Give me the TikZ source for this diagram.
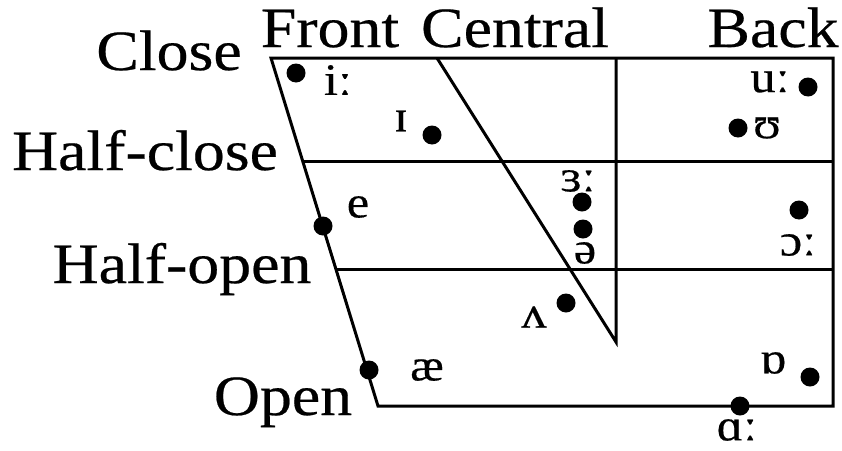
\documentclass[tikz,border=0pt]{standalone}
\usepackage{fontspec}
\setmainfont[FakeStretch=1.12,FakeBold=0.4]{Liberation Serif}
\usetikzlibrary{positioning}

\begin{document}
\begin{tikzpicture}[x=1pt,y=-1pt,
    chart/.style={line width=3pt},
    vowel/.style={circle, fill=black, inner sep=0pt, minimum size=19pt},
    height/.style={font=\fontsize{57}{60}\selectfont, inner sep=0pt, anchor=base},
    symb/.style={font=\fontsize{45}{47}\selectfont, inner sep=0pt}]
    \useasboundingbox (0,0) rectangle (842,450);
    % outline of the vowel space
    \draw[chart] (271,58) -- (833,58) -- (833,406) -- (378,406) -- cycle;
    \draw[chart] (302,161) -- (833,161);
    \draw[chart] (336,269) -- (833,269);
    % central area
    \draw[chart] (437,58) -- (616,342) -- (616,58);
    % tongue height and position
    \node[height] (close) at (169,70) {Close};
    \node[height] (halfclose) at (145,170) {Half-close};
    \node[height] (halfopen) at (182,283) {Half-open};
    \node[height] (open) at (283,415) {Open};
    \node[height] (front) at (330,47) {Front};
    \node[height] (central) at (515,47) {Central};
    \node[height] (back) at (773,47) {Back};
    % vowels
    \node[vowel] (iiDot) at (296,73) {};
    \node[symb] (ii) at (338,80) {iː};
    \node[vowel] (iDot) at (432,135) {};
    \node[symb] (i) at (401,121) {ɪ};
    \node[vowel] (eDot) at (323,226) {};
    \node[symb] (e) at (358,207) {e};
    \node[vowel] (aeDot) at (369,370) {};
    \node[symb] (ae) at (427,370) {æ};
    \node[vowel] (vvDot) at (566,303) {};
    \node[symb] (vv) at (534,317) {ʌ};
    \node[vowel] (eeDot) at (582,202) {};
    \node[symb] (ee) at (578,181) {ɜː};
    \node[vowel] (schwaDot) at (583,229) {};
    \node[symb] (schwa) at (585,253) {ə};
    \node[vowel] (uuDot) at (808,87) {};
    \node[symb] (uu) at (770,82) {uː};
    \node[vowel] (uDot) at (738,128) {};
    \node[symb] (u) at (767,128) {ʊ};
    \node[vowel] (ooDot) at (799,210) {};
    \node[symb] (oo) at (798,245) {ɔː};
    \node[vowel] (oDot) at (810,377) {};
    \node[symb] (o) at (773,363) {ɒ};
    \node[vowel] (aaDot) at (740,406) {};
    \node[symb] (aa) at (737,430) {ɑː};
\end{tikzpicture}
\end{document}
